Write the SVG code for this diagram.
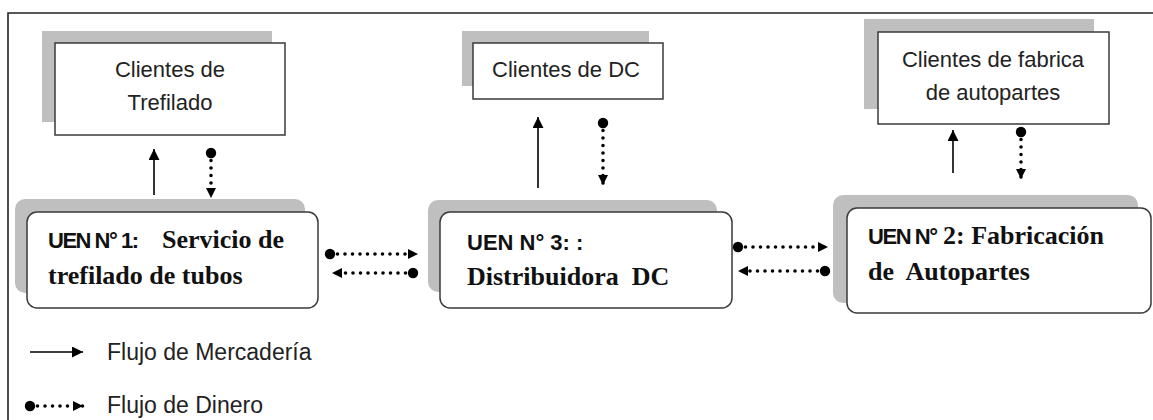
<svg xmlns="http://www.w3.org/2000/svg" width="1153" height="420" viewBox="0 0 1153 420">
<defs>
<style>
text{white-space:pre}
.shadow{fill:#bfbfbf;stroke:none}
.box{fill:#fff;stroke:#3a3a3a;stroke-width:1.5}
.cl{font-family:"Liberation Sans",Arial,sans-serif;font-size:22px;fill:#222;text-anchor:middle}
.sb{font-family:"Liberation Sans",Arial,sans-serif;font-size:22px;font-weight:bold;fill:#111}
.rb{font-family:"Liberation Serif","Times New Roman",serif;font-size:26px;font-weight:bold;fill:#111}
.lg{font-family:"Liberation Sans",Arial,sans-serif;font-size:23px;fill:#222}
.solid{stroke:#000;stroke-width:1.6;fill:none;marker-end:url(#ah)}
.money{stroke:#000;stroke-width:3.6;fill:none;stroke-linecap:round;stroke-dasharray:0 7.5;marker-start:url(#dot);marker-end:url(#ah2)}
</style>
<marker id="ah" markerUnits="userSpaceOnUse" markerWidth="12" markerHeight="12" refX="11" refY="5.5" orient="auto"><path d="M0,0 L11,5.5 L0,11 z" fill="#000"/></marker>
<marker id="ah2" markerUnits="userSpaceOnUse" markerWidth="12" markerHeight="12" refX="10" refY="5" orient="auto"><path d="M0,0 L10,5 L0,10 z" fill="#000"/></marker>
<marker id="dot" markerUnits="userSpaceOnUse" markerWidth="12" markerHeight="12" refX="6" refY="6"><circle cx="6" cy="6" r="5.2" fill="#000"/></marker>
</defs>
<rect width="1153" height="420" fill="#fff"/>
<path d="M8,420 V13 H1153" fill="none" stroke="#222" stroke-width="1.6"/>

<g id="clientes-trefilado">
<rect class="shadow" x="42" y="31" width="230" height="91"/>
<rect class="box" x="55" y="43" width="230" height="92"/>
<text class="cl" x="170" y="77">Clientes de</text>
<text class="cl" x="170" y="110">Trefilado</text>
</g>
<g id="clientes-dc">
<rect class="shadow" x="462" y="31" width="187" height="55"/>
<rect class="box" x="473" y="43" width="190" height="56"/>
<text class="cl" x="566" y="77">Clientes de DC</text>
</g>
<g id="clientes-fabrica">
<rect class="shadow" x="864" y="19" width="230" height="90"/>
<rect class="box" x="878" y="32" width="231" height="92"/>
<text class="cl" x="993" y="67">Clientes de fabrica</text>
<text class="cl" x="993" y="100">de autopartes</text>
</g>

<g id="uen1">
<rect class="shadow" x="15" y="199" width="290" height="94" rx="10"/>
<rect class="box" x="27" y="212" width="291" height="96" rx="10"/>
<text x="48" y="248"><tspan class="sb" textLength="91" lengthAdjust="spacing">UEN N° 1:</tspan><tspan class="rb" x="162">Servicio de</tspan></text>
<text class="rb" x="48" y="284">trefilado de tubos</text>
</g>
<g id="uen3">
<rect class="shadow" x="428" y="200" width="289" height="92" rx="10"/>
<rect class="box" x="440" y="212" width="292" height="96" rx="10"/>
<text class="sb" x="467" y="250">UEN N° 3: :</text>
<text class="rb" x="467" y="285">Distribuidora  DC</text>
</g>
<g id="uen2">
<rect class="shadow" x="833" y="195" width="305" height="108" rx="10"/>
<rect class="box" x="847" y="208" width="304" height="105" rx="10"/>
<text x="868" y="244"><tspan class="sb" textLength="70" lengthAdjust="spacing">UEN N°</tspan><tspan class="rb" x="943">2: Fabricación</tspan></text>
<text class="rb" x="868" y="280">de  Autopartes</text>
</g>

<g id="connectors">
<path class="solid" d="M154,195 V149"/>
<path class="money" d="M211,153 V198"/>
<path class="solid" d="M538,188 V117"/>
<path class="money" d="M603,123 V185"/>
<path class="solid" d="M953,173 V130"/>
<path class="money" d="M1021,132 V179"/>
<path class="money" d="M330,254 H418"/>
<path class="money" d="M413,273 H332"/>
<path class="money" d="M738,247 H828"/>
<path class="money" d="M825,271 H738"/>
</g>

<g id="legend">
<path class="solid" d="M30,352 H83"/>
<text class="lg" x="107" y="360">Flujo de Mercadería</text>
<path class="money" d="M30,406 H83"/>
<text class="lg" x="107" y="413">Flujo de Dinero</text>
</g>
</svg>
